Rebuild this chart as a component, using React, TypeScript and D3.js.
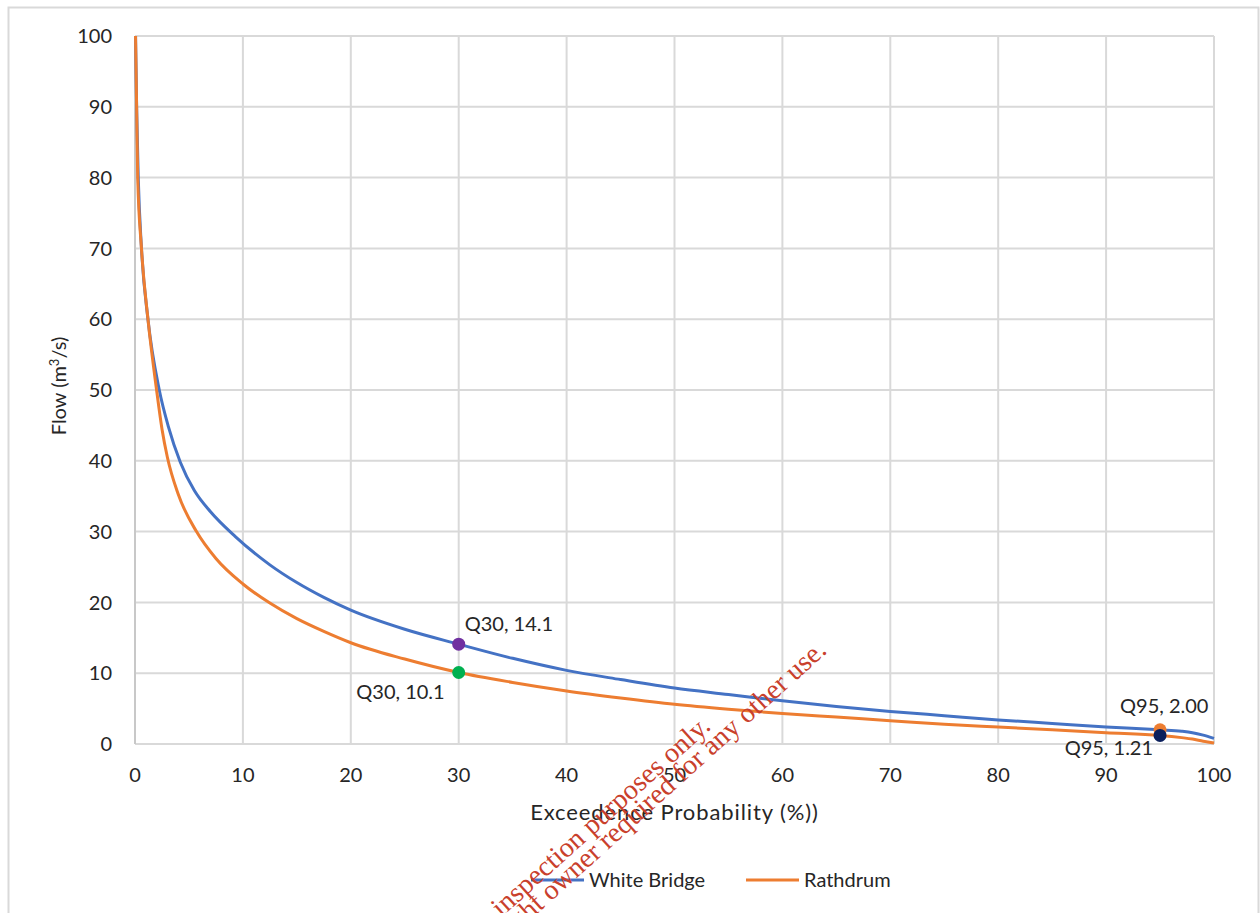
import React from "react";
import * as d3 from "d3";

const whiteBridgeX = [0.05, 0.15, 0.3, 0.6, 1.2, 2.25, 3.1, 4.2, 5.5, 7, 9.3, 12.5, 15, 17.5, 20, 25, 30, 35, 40, 45, 50, 55, 60, 65, 70, 75, 80, 85, 90, 95, 97, 98, 99, 100];
const whiteBridgeY = [100, 90, 80, 70, 60, 50, 44.8, 39.8, 35.8, 32.8, 29.3, 25.3, 22.8, 20.7, 18.9, 16.2, 14.1, 12.1, 10.4, 9.1, 7.9, 7.0, 6.1, 5.3, 4.6, 4.0, 3.4, 2.9, 2.4, 2.0, 1.8, 1.6, 1.25, 0.8];

const rathdrumX = [0.05, 0.15, 0.25, 0.6, 1.2, 2.0, 2.5, 3.0, 4.0, 5.7, 7.5, 10, 12.5, 15, 17.5, 20, 25, 30, 35, 40, 45, 50, 55, 60, 65, 70, 75, 80, 85, 90, 95, 97, 98, 99, 100];
const rathdrumY = [100, 90, 80, 70, 60, 50, 44.5, 40.5, 35.3, 30, 26.2, 22.6, 19.9, 17.7, 15.9, 14.3, 12.0, 10.1, 8.7, 7.5, 6.5, 5.6, 4.9, 4.3, 3.8, 3.3, 2.8, 2.4, 2.0, 1.6, 1.21, 0.9, 0.7, 0.4, 0.15];

const xTicks = [0, 10, 20, 30, 40, 50, 60, 70, 80, 90, 100];
const yTicks = [0, 10, 20, 30, 40, 50, 60, 70, 80, 90, 100];

const seriesNames = ["White Bridge", "Rathdrum"];
const seriesColors = ["#4472c4", "#ed7d31"];

const markerX = [30, 30, 95, 95];
const markerY = [14.1, 10.1, 2.0, 1.21];
const markerLabels = ["Q30, 14.1", "Q30, 10.1", "Q95, 2.00", "Q95, 1.21"];
const markerColors = ["#7030a0", "#00b050", "#ed7d31", "#0b1f5c"];

const FONT = "Lato, 'Open Sans', sans-serif";

export default function App() {
  const x = d3.scaleLinear().domain([0, 100]).range([135, 1214]);
  const y = d3.scaleLinear().domain([0, 100]).range([744, 36]);

  const line = d3
    .line<[number, number]>()
    .x((d) => x(d[0]))
    .y((d) => y(d[1]))
    .curve(d3.curveMonotoneX);

  const wb: [number, number][] = whiteBridgeX.map((v, i) => [v, whiteBridgeY[i]]);
  const rd: [number, number][] = rathdrumX.map((v, i) => [v, rathdrumY[i]]);

  const labelPos: [number, number, string][] = [
    [6, -13, "start"],
    [-14, 27, "end"],
    [-40, -17, "start"],
    [-7, 20, "end"],
  ];

  return (
    <svg
      width={1260}
      height={913}
      style={{ position: "absolute", left: 0, top: 0, background: "#fff" }}
    >
      <rect x={0} y={0} width={1260} height={913} fill="#fff" />
      <rect x={8.5} y={7.5} width={1250} height={920} fill="none" stroke="#d9d9d9" strokeWidth={2} />

      {yTicks.map((t) => (
        <line key={"gy" + t} x1={x(0)} x2={x(100)} y1={y(t)} y2={y(t)} stroke="#d9d9d9" strokeWidth={2} />
      ))}
      {xTicks.map((t) => (
        <line key={"gx" + t} x1={x(t)} x2={x(t)} y1={y(0)} y2={y(100)} stroke={t === 0 ? "#c8c8c8" : "#d9d9d9"} strokeWidth={2} />
      ))}

      {yTicks.map((t) => (
        <text key={"ty" + t} x={112} y={y(t)} dy="0.36em" textAnchor="end" fontFamily={FONT} fontSize={20} fill="#262626">
          {t}
        </text>
      ))}
      {xTicks.map((t) => (
        <text key={"tx" + t} x={x(t)} y={782} textAnchor="middle" fontFamily={FONT} fontSize={20} fill="#262626">
          {t}
        </text>
      ))}

      <text x={674.5} y={820} textAnchor="middle" fontFamily={FONT} fontSize={22} letterSpacing={0.9} fill="#262626">
        Exceedence Probability (%))
      </text>
      <text transform="translate(66,386) rotate(-90)" textAnchor="middle" fontFamily={FONT} fontSize={20} fill="#262626">
        Flow (m<tspan fontSize={13} dy={-7}>3</tspan><tspan dy={7}>/s)</tspan>
      </text>

      <path d={line(wb) || ""} fill="none" stroke={seriesColors[0]} strokeWidth={3} />
      <path d={line(rd) || ""} fill="none" stroke={seriesColors[1]} strokeWidth={3} />

      {markerX.map((mx, i) => (
        <circle key={"m" + i} cx={x(mx)} cy={y(markerY[i])} r={6.5} fill={markerColors[i]} />
      ))}
      {markerX.map((mx, i) => (
        <text
          key={"ml" + i}
          x={x(mx) + labelPos[i][0]}
          y={y(markerY[i]) + labelPos[i][1]}
          textAnchor={labelPos[i][2] as any}
          fontFamily={FONT}
          fontSize={20}
          fill="#262626"
        >
          {markerLabels[i]}
        </text>
      ))}

      {seriesNames.map((n, i) => {
        const lx = [531, 746][i];
        return (
          <g key={"lg" + i}>
            <line x1={lx} x2={lx + 53} y1={880} y2={880} stroke={seriesColors[i]} strokeWidth={3} />
            <text x={lx + 58} y={887} fontFamily={FONT} fontSize={20} fill="#262626">
              {n}
            </text>
          </g>
        );
      })}

      <g fill="#c9402c" fontFamily="'Liberation Serif', 'DejaVu Serif', serif" fontSize={28}>
        <text transform="translate(712,728) rotate(-42)" textAnchor="end">
          For inspection purposes only.
        </text>
        <text transform="translate(828,652) rotate(-42)" textAnchor="end">
          Consent of copyright owner required for any other use.
        </text>
      </g>
    </svg>
  );
}
